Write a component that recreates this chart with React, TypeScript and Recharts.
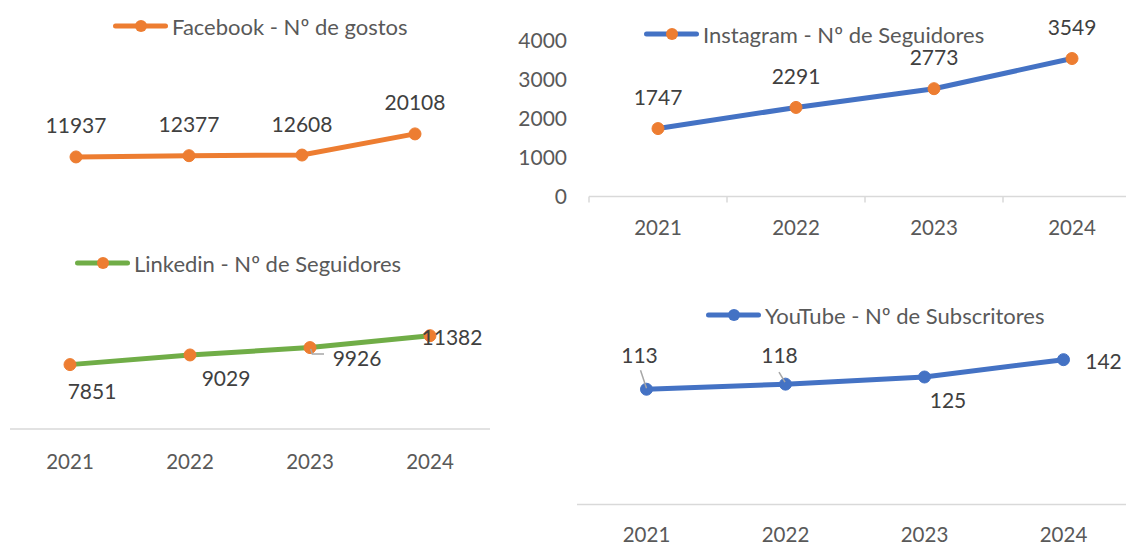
import React from 'react';
import { LineChart, Line, XAxis, YAxis, Legend, LabelList } from 'recharts';

// ---------- data ----------
const years = ['2021', '2022', '2023', '2024'];
const facebookLikes = [11937, 12377, 12608, 20108];
const instagramFollowers = [1747, 2291, 2773, 3549];
const linkedinFollowers = [7851, 9029, 9926, 11382];
const youtubeSubscribers = [113, 118, 125, 142];
const instagramTicks = [0, 1000, 2000, 3000, 4000];

const facebookName = 'Facebook - Nº de gostos';
const instagramName = 'Instagram - Nº de Seguidores';
const linkedinName = 'Linkedin - Nº de Seguidores';
const youtubeName = 'YouTube - Nº de Subscritores';

// ---------- label placement (offsets from each point) ----------
const fbLabelOffsets = [[0, -32], [0, -32], [0, -32], [0, -32]];
const igLabelOffsets = [[0, -32], [0, -32], [0, -32], [0, -32]];
const liLabelOffsets = [[22, 26], [36, 23], [47, 10], [22, 1]];
const ytLabelOffsets = [[-7, -35], [-6, -30], [23.5, 22], [40, 1]];
const liLeaders: Record<number, number[][]> = { 2: [[0.7, 1.3], [2.3, 6.3], [14, 6.3]] };
const ytLeaders: Record<number, number[][]> = { 0: [[-6, -19], [0, -1]], 1: [[-6.5, -12], [-0.5, -2]] };

// ---------- style ----------
const FONT = 'Lato, "Open Sans", sans-serif';
const ORANGE = '#ED7D31';
const BLUE = '#4472C4';
const GREEN = '#70AD47';
const AXIS_GRAY = '#D9D9D9';
const TEXT_GRAY = '#595959';
const LABEL_DARK = '#404040';
const LEADER_GRAY = '#A6A6A6';
const LEGEND_FS = 22;
const LABEL_FS = 21;
const TICK_FS = 20.5;

const build = (vals: number[]) => years.map((year, i) => ({ year, value: vals[i] }));
const fbData = build(facebookLikes);
const igData = build(instagramFollowers);
const liData = build(linkedinFollowers);
const ytData = build(youtubeSubscribers);

function LegendSwatch({ lineColor, dotColor, text }: { lineColor: string; dotColor: string; text: string }) {
  return (
    <svg width={360} height={30} style={{ display: 'block', overflow: 'visible' }}>
      <line x1={2.5} y1={15} x2={52.5} y2={15} stroke={lineColor} strokeWidth={5} strokeLinecap="round" />
      <circle cx={28} cy={15} r={6} fill={dotColor} />
      <text x={59} y={15} dominantBaseline="central" fontFamily={FONT} fontSize={LEGEND_FS} fill={TEXT_GRAY}>
        {text}
      </text>
    </svg>
  );
}

const makeLabel = (vals: number[], offsets: number[][], leaders: Record<number, number[][]> = {}) => (props: any) => {
  const { x, y, value } = props;
  let index = props.index;
  if (index === undefined || index === null) index = vals.indexOf(Number(value));
  const [dx, dy] = offsets[index] || [0, -30];
  const lead = leaders[index];
  return (
    <g>
      {lead && (
        <polyline
          points={lead.map((p) => `${x + p[0]},${y + p[1]}`).join(' ')}
          fill="none"
          stroke={LEADER_GRAY}
          strokeWidth={1.5}
        />
      )}
      <text x={x + dx} y={y + dy} textAnchor="middle" dominantBaseline="central" fontFamily={FONT} fontSize={LABEL_FS} fill={LABEL_DARK}>
        {value}
      </text>
    </g>
  );
};

const makeTick = (band: number, showMark: boolean, labelDy: number) => (props: any) => {
  const { x, y, payload } = props;
  return (
    <g>
      {showMark && <line x1={x - band / 2} y1={y} x2={x - band / 2} y2={y + 6} stroke={AXIS_GRAY} strokeWidth={1.5} />}
      <text x={x} y={y + labelDy} textAnchor="middle" dominantBaseline="central" fontFamily={FONT} fontSize={TICK_FS} fill={TEXT_GRAY}>
        {payload.value}
      </text>
    </g>
  );
};

const legendProps = { layout: 'vertical' as const, align: 'center' as const, verticalAlign: 'middle' as const };

export default function App() {
  return (
    <div style={{ position: 'absolute', left: 0, top: 0, width: 1126, height: 542, overflow: 'hidden', background: '#fff' }}>
      {/* Facebook */}
      <div style={{ position: 'absolute', left: 0, top: 0 }}>
        <LineChart width={500} height={240} data={fbData} margin={{ top: 106, right: 28.5, bottom: 49.4, left: 19.5 }}>
          <XAxis dataKey="year" hide padding={{ left: 56.5, right: 56.5 }} />
          <YAxis hide domain={[0, 30000]} />
          <Legend
            {...legendProps}
            wrapperStyle={{ left: 113, top: 11, width: 360 }}
            content={() => <LegendSwatch lineColor={ORANGE} dotColor={ORANGE} text={facebookName} />}
          />
          <Line
            type="linear"
            dataKey="value"
            name={facebookName}
            stroke={ORANGE}
            strokeWidth={5}
            dot={{ r: 6, fill: ORANGE, stroke: ORANGE, strokeWidth: 1 }}
            isAnimationActive={false}
          >
            <LabelList dataKey="value" content={makeLabel(facebookLikes, fbLabelOffsets)} />
          </Line>
        </LineChart>
      </div>

      {/* Instagram */}
      <div style={{ position: 'absolute', left: 500, top: 0 }}>
        <LineChart width={660} height={250} data={igData} margin={{ top: 41, right: 19, bottom: 23.5, left: 19 }}>
          <XAxis
            dataKey="year"
            height={30}
            padding={{ left: 69, right: 69 }}
            axisLine={{ stroke: AXIS_GRAY, strokeWidth: 1.5 }}
            tickLine={false}
            tickSize={0}
            tickMargin={0}
            interval={0}
            tick={makeTick(138, true, 30.5)}
          />
          <YAxis
            domain={[0, 4000]}
            ticks={instagramTicks}
            width={70}
            axisLine={false}
            tickLine={false}
            tickSize={0}
            tickMargin={22}
            tick={{ fill: TEXT_GRAY, fontSize: 21, fontFamily: FONT }}
          />
          <Legend
            {...legendProps}
            wrapperStyle={{ left: 144, top: 19, width: 360 }}
            content={() => <LegendSwatch lineColor={BLUE} dotColor={ORANGE} text={instagramName} />}
          />
          <Line
            type="linear"
            dataKey="value"
            name={instagramName}
            stroke={BLUE}
            strokeWidth={5}
            dot={{ r: 6, fill: ORANGE, stroke: ORANGE, strokeWidth: 1 }}
            isAnimationActive={false}
          >
            <LabelList dataKey="value" content={makeLabel(instagramFollowers, igLabelOffsets)} />
          </Line>
        </LineChart>
      </div>

      {/* Linkedin */}
      <div style={{ position: 'absolute', left: 0, top: 240 }}>
        <LineChart width={500} height={240} data={liData} margin={{ top: 74.2, right: 10, bottom: 0, left: 10 }}>
          <XAxis
            dataKey="year"
            height={51}
            padding={{ left: 60, right: 60 }}
            axisLine={{ stroke: AXIS_GRAY, strokeWidth: 1.5 }}
            tickLine={false}
            tickSize={0}
            tickMargin={0}
            interval={0}
            tick={makeTick(120, false, 32)}
          />
          <YAxis hide domain={[0, 14000]} />
          <Legend
            {...legendProps}
            wrapperStyle={{ left: 75, top: 8, width: 360 }}
            content={() => <LegendSwatch lineColor={GREEN} dotColor={ORANGE} text={linkedinName} />}
          />
          <Line
            type="linear"
            dataKey="value"
            name={linkedinName}
            stroke={GREEN}
            strokeWidth={5}
            dot={{ r: 6, fill: ORANGE, stroke: ORANGE, strokeWidth: 1 }}
            isAnimationActive={false}
          >
            <LabelList dataKey="value" content={makeLabel(linkedinFollowers, liLabelOffsets, liLeaders)} />
          </Line>
        </LineChart>
      </div>

      {/* YouTube */}
      <div style={{ position: 'absolute', left: 560, top: 290 }}>
        <LineChart width={600} height={252} data={ytData} margin={{ top: 51.3, right: 27, bottom: 0, left: 17 }}>
          <XAxis
            dataKey="year"
            height={37.5}
            padding={{ left: 69.5, right: 69.5 }}
            axisLine={{ stroke: AXIS_GRAY, strokeWidth: 1.5 }}
            tickLine={false}
            tickSize={0}
            tickMargin={0}
            interval={0}
            tick={makeTick(139, false, 29.5)}
          />
          <YAxis hide domain={[0, 160]} />
          <Legend
            {...legendProps}
            wrapperStyle={{ left: 146, top: 10, width: 360 }}
            content={() => <LegendSwatch lineColor={BLUE} dotColor={BLUE} text={youtubeName} />}
          />
          <Line
            type="linear"
            dataKey="value"
            name={youtubeName}
            stroke={BLUE}
            strokeWidth={5}
            dot={{ r: 6, fill: BLUE, stroke: BLUE, strokeWidth: 1 }}
            isAnimationActive={false}
          >
            <LabelList dataKey="value" content={makeLabel(youtubeSubscribers, ytLabelOffsets, ytLeaders)} />
          </Line>
        </LineChart>
      </div>
    </div>
  );
}
